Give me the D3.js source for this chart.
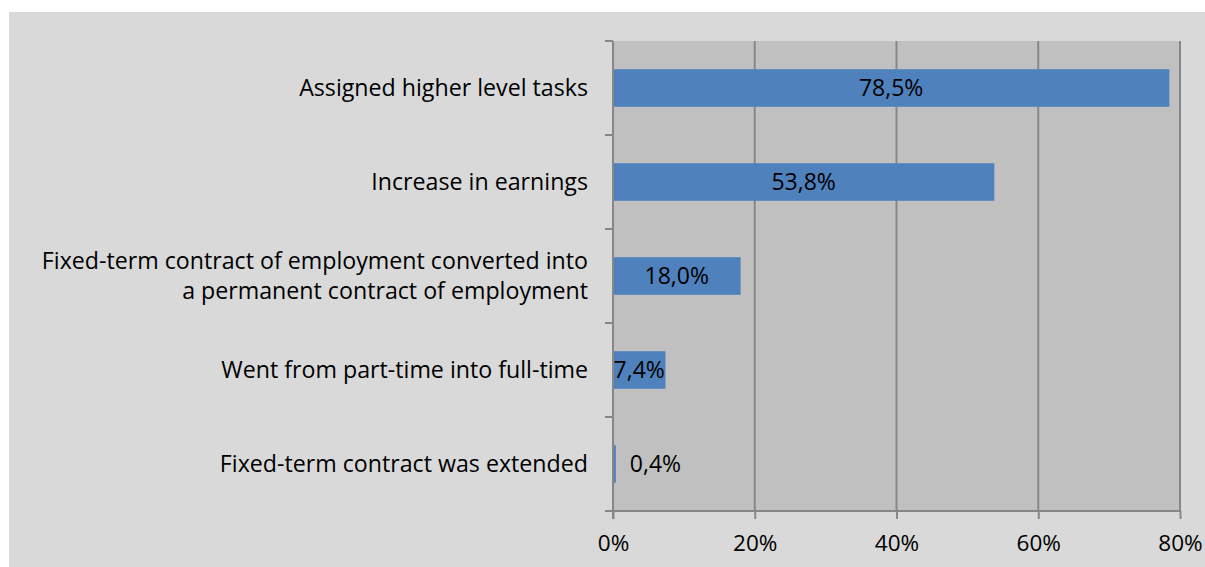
<!DOCTYPE html>
<html>
<head>
<meta charset="utf-8">
<script src="https://cdn.jsdelivr.net/npm/d3@7"></script>
<style>
  html, body { margin: 0; padding: 0; background: #ffffff; }
  svg { display: block; }
  text { font-family: "Open Sans", "DejaVu Sans", sans-serif; fill: #000; }
</style>
</head>
<body>
<svg id="chart" width="1205" height="567"></svg>
<script>
// Outcomes reported after the change, share of respondents (%)
const categories = [
  "Assigned higher level tasks",
  "Increase in earnings",
  "Fixed-term contract of employment converted into\na permanent contract of employment",
  "Went from part-time into full-time",
  "Fixed-term contract was extended"
];
const values = [78.5, 53.8, 18.0, 7.4, 0.4];
const tickValues = [0, 20, 40, 60, 80];
const tickLabels = ["0%", "20%", "40%", "60%", "80%"];

const W = 1205, H = 567;
const plot = { left: 613, right: 1180, top: 41, bottom: 511 };
const fmt = v => v.toFixed(1).replace(".", ",") + "%";

const svg = d3.select("#chart");

// chart area background
svg.append("rect")
  .attr("x", 9).attr("y", 12)
  .attr("width", W - 9).attr("height", H - 12)
  .attr("fill", "#d9d9d9");

// plot area background
svg.append("rect")
  .attr("x", plot.left).attr("y", plot.top)
  .attr("width", plot.right - plot.left).attr("height", plot.bottom - plot.top)
  .attr("fill", "#c0c0c0");

const x = d3.scaleLinear().domain([0, 80]).range([plot.left, plot.right]);
const y = d3.scaleBand().domain(categories)
  .range([plot.top, plot.bottom])
  .paddingInner(0.6).paddingOuter(0.3);
const step = y.step();

const gridColor = "#878787";

// vertical gridlines
svg.append("g")
  .selectAll("line")
  .data(tickValues.slice(1))
  .join("line")
  .attr("x1", d => x(d)).attr("x2", d => x(d))
  .attr("y1", plot.top).attr("y2", plot.bottom)
  .attr("stroke", gridColor).attr("stroke-width", 2);

// bars
svg.append("g")
  .selectAll("rect")
  .data(values)
  .join("rect")
  .attr("x", x(0))
  .attr("y", (d, i) => y(categories[i]))
  .attr("width", d => x(d) - x(0))
  .attr("height", y.bandwidth())
  .attr("fill", "#4f81bd");

// x axis
const xAxis = d3.axisBottom(x)
  .tickValues(tickValues)
  .tickFormat((d, i) => tickLabels[i])
  .tickSize(8)
  .tickPadding(16);
const gx = svg.append("g")
  .attr("transform", `translate(0,${plot.bottom})`)
  .call(xAxis);
gx.select(".domain").attr("stroke", gridColor).attr("stroke-width", 2)
  .attr("d", `M${plot.left - 8},0H${plot.right}`);
gx.selectAll(".tick line").attr("stroke", gridColor).attr("stroke-width", 2);
gx.selectAll(".tick text").attr("font-size", 22.5).attr("font-family", "Open Sans").attr("fill", "#000");

// y axis line with ticks on category boundaries
const gy = svg.append("g");
gy.append("line")
  .attr("x1", plot.left).attr("x2", plot.left)
  .attr("y1", plot.top).attr("y2", plot.bottom + 8)
  .attr("stroke", gridColor).attr("stroke-width", 2);
gy.selectAll("line.tk")
  .data(d3.range(categories.length))
  .join("line").attr("class", "tk")
  .attr("x1", plot.left - 8).attr("x2", plot.left)
  .attr("y1", i => y(categories[i]) - step * 0.3)
  .attr("y2", i => y(categories[i]) - step * 0.3)
  .attr("stroke", gridColor).attr("stroke-width", 2);

// right border of plot area
svg.append("line")
  .attr("x1", plot.right).attr("x2", plot.right)
  .attr("y1", plot.top).attr("y2", plot.bottom)
  .attr("stroke", gridColor).attr("stroke-width", 2);

// category labels
const lineGap = 30;
svg.append("g")
  .selectAll("text")
  .data(categories)
  .join("text")
  .attr("text-anchor", "end")
  .attr("font-size", 23.2)
  .each(function (d) {
    const lines = d.split("\n");
    const cy = y(d) + y.bandwidth() / 2;
    const t = d3.select(this);
    lines.forEach((ln, k) => {
      t.append("tspan")
        .attr("x", plot.left - 25)
        .attr("y", cy + (k - (lines.length - 1) / 2) * lineGap)
        .attr("dy", "0.36em")
        .text(ln);
    });
  });

// value labels
svg.append("g")
  .selectAll("text")
  .data(values)
  .join("text")
  .attr("font-size", 23)
  .attr("text-anchor", d => (x(d) - x(0) < 20 ? "start" : "middle"))
  .attr("x", d => (x(d) - x(0) < 20 ? x(d) + 14 : (x(0) + x(d)) / 2))
  .attr("y", (d, i) => y(categories[i]) + y.bandwidth() / 2)
  .attr("dy", "0.36em")
  .text(fmt);
</script>
</body>
</html>
